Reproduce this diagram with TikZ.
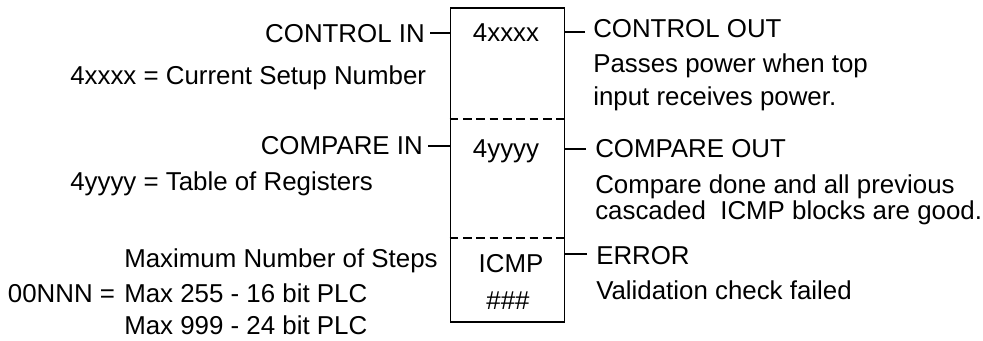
\documentclass[tikz,border=0pt]{standalone}
\usepackage{fontspec}
\setmainfont{Liberation Sans}
\usetikzlibrary{positioning}

\begin{document}
\begin{tikzpicture}[
    x=0.75pt, y=-0.75pt,
    lbl/.style={inner sep=0pt, font=\fontsize{19.4}{24}\selectfont},
    lleft/.style={lbl, anchor=base east},
    lright/.style={lbl, anchor=base west},
    blockbox/.style={draw, line width=1.2pt, minimum width=85.5pt, minimum height=235.5pt, inner sep=0pt},
    stub/.style={line width=0.8pt},
    divider/.style={line width=0.8pt, dash pattern=on 6.5pt off 3.5pt}
]
    \useasboundingbox (0,0) rectangle (983,341);

    % The ICMP block
    \node[blockbox] (blk) at (507.5,165) {};
    \draw[divider] (blk.west |- 0,119) -- (blk.east |- 0,119);
    \draw[divider] (blk.west |- 0,238) -- (blk.east |- 0,238);
    \node[lbl, anchor=base] (setup) at (506,42) {4xxxx};
    \node[lbl, anchor=base] (regs) at (506,158) {4yyyy};
    \node[lbl, anchor=base] (name) at (511,273) {ICMP};
    \node[lbl, anchor=base] (num) at (508,310) {\#\#\#};

    % Left side: inputs
    \node[lleft] (ctlin) at (425,43) {CONTROL IN};
    \node[lright] (setupnum) at (70,85) {4xxxx = Current Setup Number};
    \node[lleft] (cmpin) at (423,155) {COMPARE IN};
    \node[lright] (table) at (70,191) {4yyyy = Table of Registers};
    \node[lright] (maxsteps) at (124,268) {Maximum Number of Steps};
    \node[lright] (max255) at (124,303) {Max 255 - 16 bit PLC};
    \node[lbl, left=6.5pt of max255] (nnn) {00NNN =};
    \node[lright] (max999) at (124,335) {Max 999 - 24 bit PLC};

    % Right side: outputs
    \node[lright] (ctlout) at (593,38) {CONTROL OUT};
    \node[lright] (passes) at (593,73) {Passes power when top};
    \node[lright] (passesb) at (593,106) {input receives power.};
    \node[lright] (cmpout) at (595,158) {COMPARE OUT};
    \node[lright] (cmpdone) at (595,194) {Compare done and all previous};
    \node[lright] (cmpdoneb) at (595,220) {cascaded \ ICMP blocks are good.};
    \node[lright] (error) at (596,265) {ERROR};
    \node[lright] (valid) at (596,300) {Validation check failed};

    % Stubs
    \coordinate (ctlin stub) at (430,33);
    \coordinate (cmpin stub) at (428,146);
    \coordinate (ctlout stub) at (585,32);
    \coordinate (cmpout stub) at (586,149);
    \coordinate (error stub) at (587,254);
    \draw[stub] (ctlin stub) -- (ctlin stub -| blk.west);
    \draw[stub] (cmpin stub) -- (cmpin stub -| blk.west);
    \draw[stub] (ctlout stub) -- (ctlout stub -| blk.east);
    \draw[stub] (cmpout stub) -- (cmpout stub -| blk.east);
    \draw[stub] (error stub) -- (error stub -| blk.east);
\end{tikzpicture}
\end{document}
